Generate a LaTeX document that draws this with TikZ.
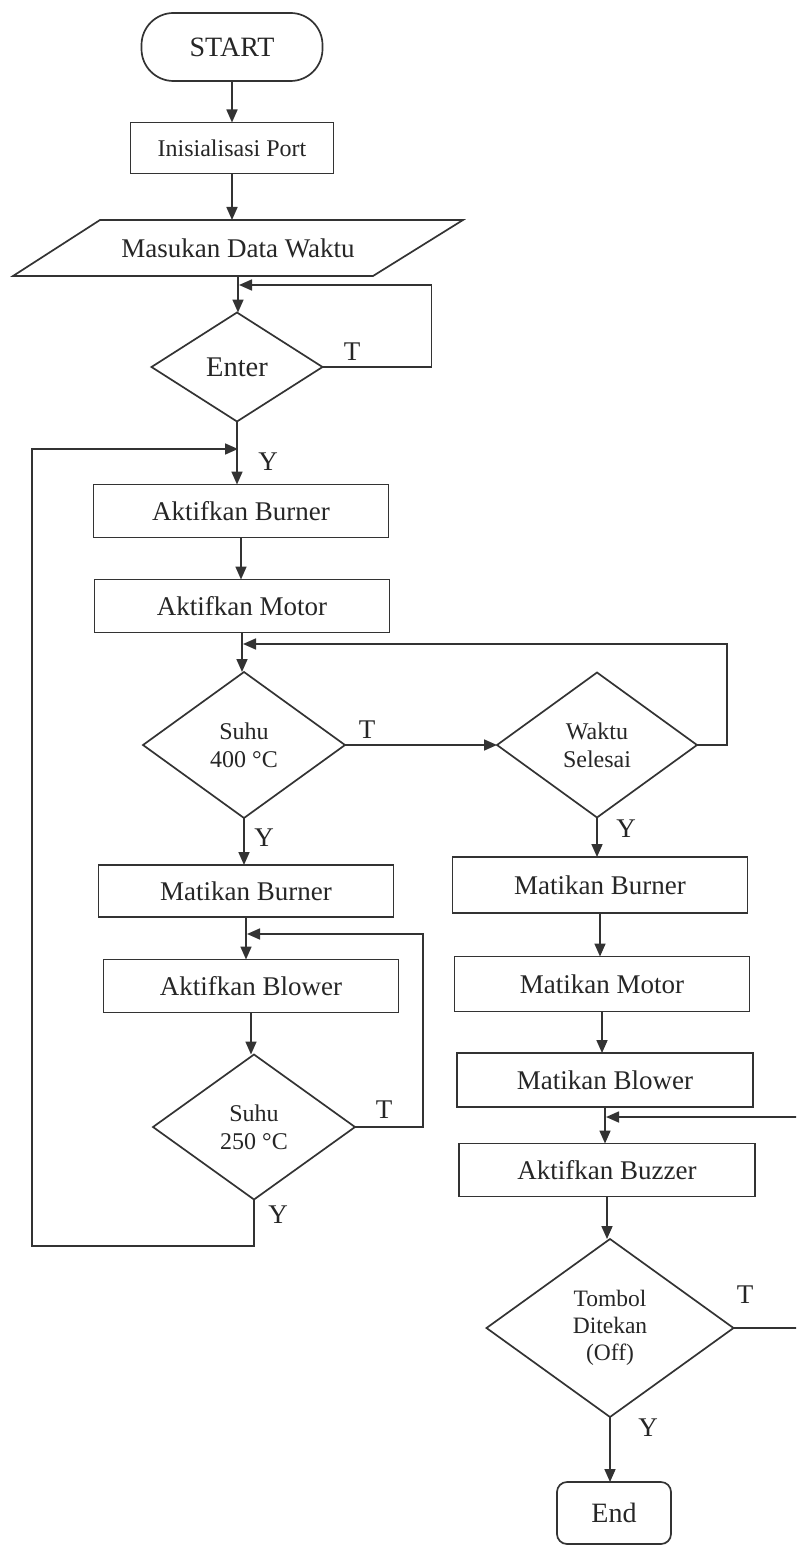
\documentclass[tikz,border=0pt]{standalone}
\usepackage{fontspec}
\setmainfont{Liberation Serif}
\usetikzlibrary{shapes.geometric,arrows.meta,calc}

\begin{document}
\begin{tikzpicture}[x=1pt,y=-1pt,
  every node/.style={inner sep=0pt, outer sep=0pt, text=black!85},
  conn/.style={line width=1.7pt, draw=black!80},
  flow/.style={conn, -{Triangle[length=13pt,width=11pt]}},
  procbox/.style={draw=black!80, line width=1.7pt, rectangle,
    minimum width=295pt, minimum height=53pt, font=\fontsize{27}{30}\selectfont},
  decide/.style={draw=black!80, line width=1.7pt, diamond, aspect=1.4,
    align=center, font=\fontsize{24}{28}\selectfont},
  terminal/.style={draw=black!80, line width=1.7pt, rectangle,
    font=\fontsize{28}{30}\selectfont},
  lab/.style={font=\fontsize{27}{30}\selectfont}
]
\useasboundingbox (0,0) rectangle (796,1546);
\fill[white] (0,0) rectangle (796,1546);
\clip (0,0) rectangle (796,1546);

% ---------- left column ----------
\node[terminal, minimum width=181pt, minimum height=68pt, rounded corners=32pt]
  (start) at (232,47) {START};
\node[procbox, minimum width=203pt, minimum height=51pt,
  font=\fontsize{24}{28}\selectfont] (init) at (232,148) {Inisialisasi Port};
\node[minimum width=300pt, minimum height=56pt, font=\fontsize{27}{30}\selectfont]
  (input) at (238,248) {Masukan Data Waktu};
\draw[conn] (100,220) -- (463,220) -- (373,276) -- (13,276) -- cycle;
\node[decide, minimum width=171pt, minimum height=109pt,
  font=\fontsize{28.5}{30}\selectfont] (enter) at (237,367) {Enter};
\node[procbox] (burnerA) at (241,511) {Aktifkan Burner};
\node[procbox] (motorA) at (242,606) {Aktifkan Motor};
\node[decide, minimum width=202pt, minimum height=146pt]
  (suhuA) at (244,745) {Suhu\\400 °C};
\node[procbox, minimum height=52pt] (burnerM) at (246,891) {Matikan Burner};
\node[procbox] (blowerA) at (251,986) {Aktifkan Blower};
\node[decide, minimum width=202pt, minimum height=145pt]
  (suhuB) at (254,1127) {Suhu\\250 °C};

% ---------- right column ----------
\node[decide, minimum width=200pt, minimum height=145pt]
  (waktu) at (597,745) {Waktu\\Selesai};
\node[procbox, minimum height=56pt] (burnerR) at (600,885) {Matikan Burner};
\node[procbox, minimum height=55pt] (motorR) at (602,984) {Matikan Motor};
\node[procbox, minimum width=296pt, minimum height=54pt] (blowerR) at (605,1080) {Matikan Blower};
\node[procbox, minimum width=296pt] (buzzer) at (607,1170) {Aktifkan Buzzer};
\node[decide, minimum width=247pt, minimum height=178pt,
  font=\fontsize{23.5}{27}\selectfont] (tombol) at (610,1328) {Tombol\\Ditekan\\(Off)};
\node[terminal, minimum width=114pt, minimum height=62pt, rounded corners=10pt]
  (end) at (614,1513) {End};

% ---------- junction points of the loops ----------
\coordinate (j1) at (input.south |- 0,285);
\coordinate (j2) at (enter.south |- 0,449);
\coordinate (j3) at (burnerM.south |- 0,934);
\coordinate (j4) at (motorA.south |- 0,644);
\coordinate (j5) at (blowerR.south |- 0,1117);
\coordinate (c2) at (32,1246);

% ---------- main flow ----------
\draw[flow] (start.south) -- (start.south |- init.north);
\draw[flow] (init.south) -- (init.south |- input.north);
\draw[flow] (input.south) -- (input.south |- enter.north);
\draw[flow] (enter.south) -- (enter.south |- burnerA.north);
\draw[flow] (burnerA.south) -- (burnerA.south |- motorA.north);
\draw[flow] (motorA.south) -- (motorA.south |- suhuA.north);
\draw[flow] (suhuA.south) -- (suhuA.south |- burnerM.north);
\draw[flow] (burnerM.south) -- (burnerM.south |- blowerA.north);
\draw[flow] (blowerA.south) -- (blowerA.south |- suhuB.north);
\draw[flow] (suhuA.east) -- (waktu.west);
\draw[flow] (waktu.south) -- (waktu.south |- burnerR.north);
\draw[flow] (burnerR.south) -- (burnerR.south |- motorR.north);
\draw[flow] (motorR.south) -- (motorR.south |- blowerR.north);
\draw[flow] (blowerR.south) -- (blowerR.south |- buzzer.north);
\draw[flow] (buzzer.south) -- (buzzer.south |- tombol.north);
\draw[flow] (tombol.south) -- (tombol.south |- end.north);

% ---------- loops ----------
\draw[flow] (enter.east) -- ++(109,0) |- ($(j1)+(1,0)$);
\draw[flow] (suhuB.south) |- (c2) |- ($(j2)+(1,0)$);
\draw[flow] (suhuB.east) -- ++(68,0) |- ($(j3)+(1,0)$);
\draw[flow] (waktu.east) -- ++(30,0) |- ($(j4)+(1,0)$);
\draw[flow] (tombol.east) -- ++(90,0) |- ($(j5)+(1,0)$);

% ---------- branch labels ----------
\node[lab] at (352,352) {T};
\node[lab] at (268,462) {Y};
\node[lab] at (367,730) {T};
\node[lab] at (264,838) {Y};
\node[lab] at (626,829) {Y};
\node[lab] at (384,1110) {T};
\node[lab] at (278,1215) {Y};
\node[lab] at (745,1295) {T};
\node[lab] at (648,1428) {Y};
\end{tikzpicture}
\end{document}
